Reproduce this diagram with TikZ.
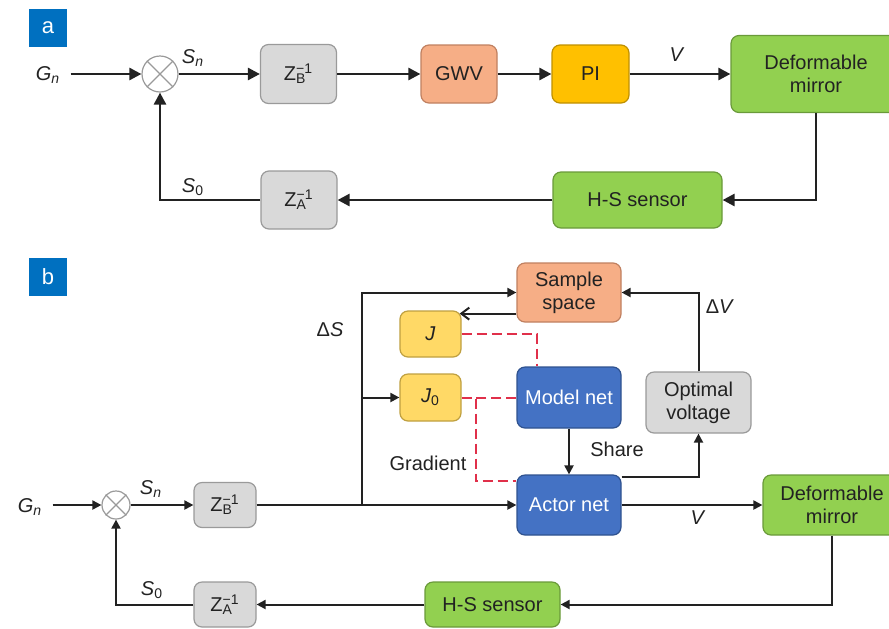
\documentclass[tikz,border=0pt]{standalone}
\usepackage{fontspec}
\setmainfont{Liberation Sans}
\usetikzlibrary{arrows.meta,calc}
\definecolor{boxgray}{HTML}{D9D9D9}
\definecolor{edgegray}{HTML}{9A9A9A}
\definecolor{salmon}{HTML}{F6AE86}
\definecolor{salmonedge}{HTML}{C08060}
\definecolor{gold}{HTML}{FFC000}
\definecolor{goldedge}{HTML}{BF9000}
\definecolor{dmgreen}{HTML}{92D050}
\definecolor{dmgreenedge}{HTML}{6A9A3A}
\definecolor{jyellow}{HTML}{FFD966}
\definecolor{jyellowedge}{HTML}{BFA040}
\definecolor{netblue}{HTML}{4472C4}
\definecolor{netblueedge}{HTML}{2F528F}
\definecolor{tagblue}{HTML}{0070C0}
\definecolor{dashred}{HTML}{E0304A}
\definecolor{linecol}{HTML}{222222}
\begin{document}
\begin{tikzpicture}[x=0.5pt,y=-0.5pt,
  every node/.style={font=\fontsize{10}{11.5}\selectfont, text=linecol},
  blk/.style={draw, rounded corners=4pt, line width=0.6pt, align=center, inner sep=0pt},
  graybox/.style={blk, fill=boxgray, draw=edgegray},
  salmonbox/.style={blk, fill=salmon, draw=salmonedge},
  goldbox/.style={blk, fill=gold, draw=goldedge},
  greenbox/.style={blk, fill=dmgreen, draw=dmgreenedge},
  jbox/.style={blk, fill=jyellow, draw=jyellowedge},
  bluebox/.style={blk, fill=netblue, draw=netblueedge, text=white},
  sumnode/.style={circle, draw=edgegray, fill=white, line width=0.6pt, inner sep=0pt},
  tag/.style={fill=tagblue, text=white, minimum size=19pt, inner sep=0pt, font=\fontsize{11}{12}\selectfont},
  lbl/.style={inner sep=0pt},
  arra/.style={draw=linecol, line width=1.3pt, -{Triangle[length=6pt,width=6pt]}},
  arrb/.style={draw=linecol, line width=1pt, -{Triangle[length=4.5pt,width=4.5pt]}},
  lineb/.style={draw=linecol, line width=1pt},
  reddash/.style={draw=dashred, line width=1pt, dash pattern=on 5pt off 2.5pt}
]
\useasboundingbox (0,0) rectangle (889,628);
\clip (0,0) rectangle (889,628);

% ---------------- Panel a ----------------
\node[tag] (taga) at (48,28) {a};
\node[lbl] (Gna) at (48,75) {\textit{G}\textsubscript{\textit{n}}};
\node[sumnode, minimum size=18pt] (suma) at (160,74) {};
\draw[edgegray, line width=0.6pt] (suma.north west) -- (suma.south east) (suma.north east) -- (suma.south west);
\node[graybox, minimum width=38pt, minimum height=29.5pt] (ZBa) at (298.5,74) {Z\rlap{\textsubscript{B}}\textsuperscript{−1}};
\node[salmonbox, minimum width=38pt, minimum height=29pt] (GWV) at (459,74) {GWV};
\node[goldbox, minimum width=38.5pt, minimum height=29pt] (PI) at (590.5,74) {PI};
\node[greenbox, minimum width=85pt, minimum height=38.5pt] (DMa) at (816,74) {Deformable\\mirror};
\node[greenbox, minimum width=84.5pt, minimum height=28pt] (HSa) at (637.5,200) {H-S sensor};
\node[graybox, minimum width=38pt, minimum height=29pt] (ZAa) at (299,200) {Z\rlap{\textsubscript{A}}\textsuperscript{−1}};

\node[lbl] (Sna) at (193,58) {\textit{S}\textsubscript{\textit{n}}};
\node[lbl] (Va) at (677,55) {\textit{V}};
\node[lbl] (S0a) at (193,187) {\textit{S}\textsubscript{0}};

\coordinate (ga) at ($(Gna.east)+(10,0)$);
\draw[arra] (ga |- suma.west) -- (suma.west);
\draw[arra] (suma.east) -- (ZBa.west);
\draw[arra] (ZBa.east) -- (GWV.west);
\draw[arra] (GWV.east) -- (PI.west);
\draw[arra] (PI.east) -- (DMa.west);
\draw[arra] (DMa.south) |- (HSa.east);
\draw[arra] (HSa.west) -- (ZAa.east);
\draw[arra] (ZAa.west) -| (suma.south);

% ---------------- Panel b ----------------
\node[tag] (tagb) at (48,277) {b};
\node[lbl] (Gnb) at (30,507) {\textit{G}\textsubscript{\textit{n}}};
\node[sumnode, minimum size=14pt] (sumb) at (116,505) {};
\draw[edgegray, line width=0.6pt] (sumb.north west) -- (sumb.south east) (sumb.north east) -- (sumb.south west);
\node[graybox, minimum width=31pt, minimum height=22.5pt] (ZBb) at (225,505) {Z\rlap{\textsubscript{B}}\textsuperscript{−1}};
\node[salmonbox, minimum width=52pt, minimum height=29.5pt] (SS) at (569,292.5) {Sample\\space};
\node[jbox, minimum width=30.5pt, minimum height=23pt] (J) at (430.5,334) {\textit{J}};
\node[jbox, minimum width=30.5pt, minimum height=23.5pt] (J0) at (430.5,397.5) {\textit{J}\textsubscript{0}};
\node[bluebox, minimum width=52pt, minimum height=30.5pt] (MN) at (569,397.5) {Model net};
\node[bluebox, minimum width=52pt, minimum height=30pt] (AN) at (569,505) {Actor net};
\node[graybox, minimum width=52.5pt, minimum height=30.5pt] (OV) at (698.5,402.5) {Optimal\\voltage};
\node[greenbox, minimum width=69pt, minimum height=30pt] (DMb) at (832,505) {Deformable\\mirror};
\node[greenbox, minimum width=67.5pt, minimum height=22.5pt] (HSb) at (492.5,604.5) {H-S sensor};
\node[graybox, minimum width=31pt, minimum height=22.5pt] (ZAb) at (225,604.5) {Z\rlap{\textsubscript{A}}\textsuperscript{−1}};

\node[lbl] (Snb) at (151,489) {\textit{S}\textsubscript{\textit{n}}};
\node[lbl] (S0b) at (152,590) {\textit{S}\textsubscript{0}};
\node[lbl] (dS) at (330,330) {Δ\textit{S}};
\node[lbl] (dV) at (720,307) {Δ\textit{V}};
\node[lbl] (Share) at (617,449) {Share};
\node[lbl] (Grad) at (428,463) {Gradient};
\node[lbl] (Vb) at (698,518) {\textit{V}};

\coordinate (gb) at ($(Gnb.east)+(10,0)$);
\coordinate (br) at (362,505);
\draw[arrb] (gb |- sumb.west) -- (sumb.west);
\draw[arrb] (sumb.east) -- (ZBb.west);
\draw[arrb] (ZBb.east) -- (AN.west);
\draw[arrb] (br) |- (SS.west);
\draw[arrb] (br |- J0.west) -- (J0.west);
\draw[lineb, -{Straight Barb[length=4pt,width=6pt]}] ($(SS.south west)+(0,-9)$) -- ($(J.east |- SS.south west)+(-2,-9)$);
\draw[arrb] (MN.south) -- (AN.north);
\draw[arrb] ($(AN.north east)+(0,3)$) -| (OV.south);
\draw[arrb] (OV.north) |- (SS.east);
\draw[arrb] (AN.east) -- (DMb.west);
\draw[arrb] (DMb.south) |- (HSb.east);
\draw[arrb] (HSb.west) -- (ZAb.east);
\draw[arrb] (ZAb.west) -| (sumb.south);

\draw[reddash] (J.east) -| ($(MN.north)+(-32,0)$);
\draw[reddash] (MN.west) -- (J0.east);
\draw[reddash] (J0.east) -- ++(14,0) |- ($(AN.north west)+(0,7)$);
\end{tikzpicture}
\end{document}
